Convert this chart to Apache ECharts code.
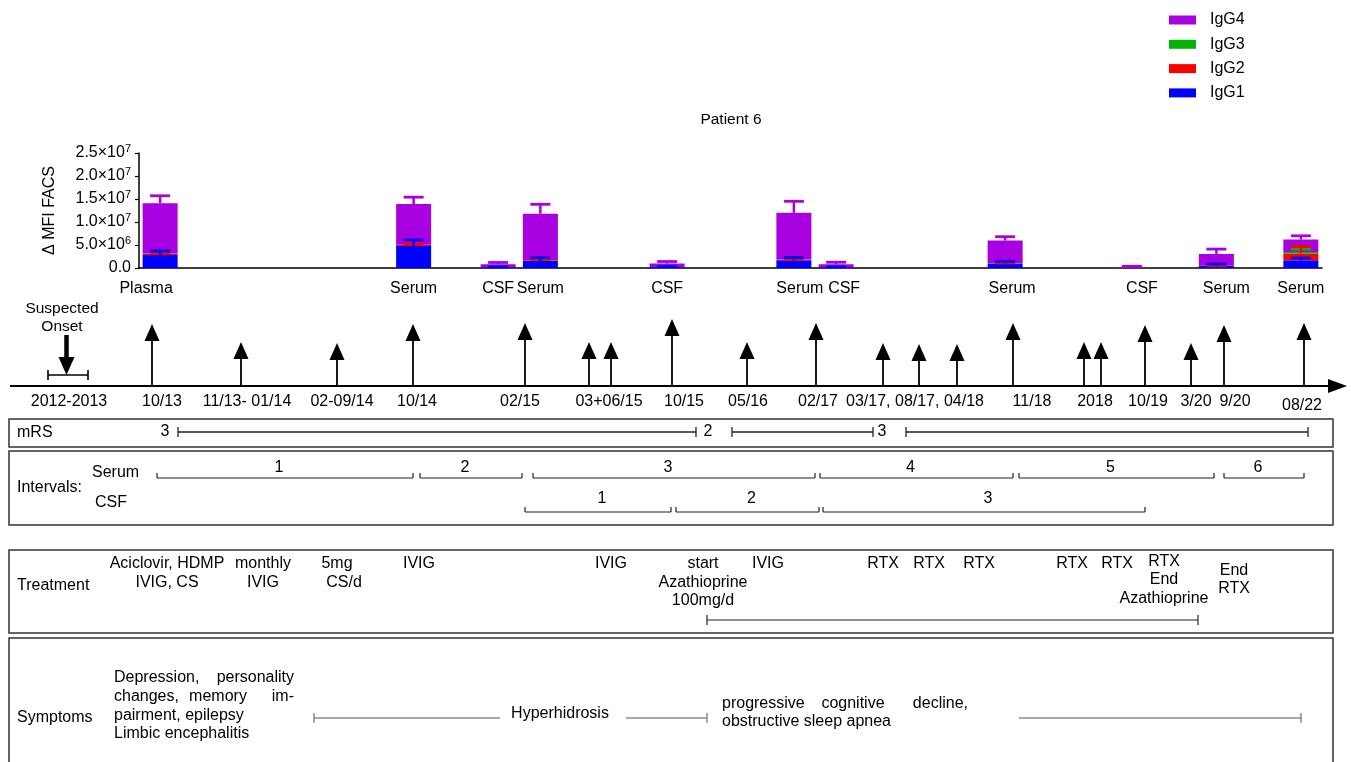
<!DOCTYPE html>
<html>
<head>
<meta charset="utf-8">
<script src="https://cdn.jsdelivr.net/npm/echarts@6/dist/echarts.min.js"></script>
<style>
  html, body { margin: 0; padding: 0; background: #fff; }
  #chart { width: 1351px; height: 762px; }
</style>
</head>
<body>
<div id="chart"></div>
<script>
// ---------- IgG subclass reactivity (ΔMFI, FACS) per sample ----------
const SLOT_COUNT = 28;                                   // evenly spaced sample slots on the bar axis
const sampleSlot = [0, 6, 8, 9, 12, 15, 16, 20, 23, 25, 27];
const sampleType = ['Plasma', 'Serum', 'CSF', 'Serum', 'CSF', 'Serum', 'CSF', 'Serum', 'CSF', 'Serum', 'Serum'];

const igg1 = [2.8e6, 4.8e6, 0.15e6, 1.5e6, 0.2e6, 1.7e6, 0.15e6, 1.0e6, 0.02e6, 0.45e6, 1.68e6];
const igg2 = [0.3e6, 0.2e6, 0.02e6, 0.2e6, 0.02e6, 0.1e6, 0.02e6, 0.05e6, 0.01e6, 0.02e6, 1.47e6];
const igg3 = [0.05e6, 0.05e6, 0.01e6, 0.05e6, 0.01e6, 0.05e6, 0.01e6, 0.02e6, 0.01e6, 0.02e6, 0.35e6];
const igg4 = [10.95e6, 8.85e6, 0.62e6, 10.05e6, 0.73e6, 10.15e6, 0.62e6, 4.93e6, 0.12e6, 2.57e6, 2.7e6];

const sd1 = [0.9e6, 1.3e6, 0.1e6, 0.77e6, 0.1e6, 0.6e6, 0.1e6, 0.45e6, 0, 0.43e6, 0.5e6];
const sd2 = [0.2e6, 0.2e6, 0, 0.15e6, 0, 0.1e6, 0, 0.05e6, 0, 0.05e6, 1.55e6];
const sd3 = [0, 0, 0, 0, 0, 0, 0, 0, 0, 0, 0.6e6];
const sd4 = [1.6e6, 1.5e6, 0.4e6, 2.05e6, 0.45e6, 2.5e6, 0.45e6, 0.8e6, 0.22e6, 1.05e6, 0.8e6];

// ---------- Disease timeline (positions along the schematic time line) ----------
const arrowPos  = [152, 241, 337, 413, 525, 589, 611, 672, 747, 816, 883, 919, 957, 1013, 1084, 1101, 1145, 1191, 1224, 1304];
const arrowRise = [62, 44, 43, 62, 63, 44, 44, 67, 44, 63, 43, 42, 42, 63, 44, 44, 61, 43, 61, 63];
const dateLabels = ['2012-2013', '10/13', '11/13- 01/14', '02-09/14', '10/14', '02/15', '03+06/15', '10/15',
                    '05/16', '02/17', '03/17, 08/17, 04/18', '11/18', '2018', '10/19', '3/20', '9/20', '08/22'];
const dateLabelPos = [69, 162, 247, 342, 417, 520, 609, 684, 748, 818, 915, 1032, 1095, 1148, 1196, 1235, 1302];

const mrsScores = ['3', '2', '3'];
const mrsScorePos = [165, 708, 882];
const mrsSpans = [[178, 696], [732, 873], [906, 1308]];

const serumIntervals = [[157, 413], [420, 522], [533, 815], [820, 1013], [1019, 1214], [1224, 1304]];
const csfIntervals = [[525, 671], [676, 819], [823, 1145]];

const azathioprineSpan = [707, 1198];
const symptomSpans = [[314, 500, 'start'], [626, 707, 'end'], [1019, 1301, 'end']];

// ---------- styling ----------
const FONT = '"Liberation Sans", Arial, Helvetica, sans-serif';
const C4 = '#A800E0', C3 = '#00B400', C2 = '#FF0000', C1 = '#0000FF';
const TL_Y = 386;          // time line baseline
const FS = 16;             // body text size
const labelNudge = { 0: -14, 15: 6, 16: 8, 20: 7, 23: 10, 25: 10 };

const categories = [];
for (let i = 0; i < SLOT_COUNT; i++) categories.push('');
sampleSlot.forEach((s, k) => { categories[s] = sampleType[k]; });

function slotSeries(vals) {
  const out = new Array(SLOT_COUNT).fill(null);
  sampleSlot.forEach((s, k) => { out[s] = vals[k]; });
  return out;
}

const layers = [igg1, igg2, igg3, igg4];
function errorSeries(color, sd, layerIdx, z) {
  const data = sampleSlot.map((slot, k) => {
    let base = 0;
    for (let j = 0; j <= layerIdx; j++) base += layers[j][k];
    return [slot, base, base + sd[k], sd[k]];
  });
  return {
    type: 'custom', xAxisIndex: 0, yAxisIndex: 0, z, silent: true, data,
    renderItem(p, api) {
      if (!api.value(3)) return null;
      const top = api.coord([api.value(0), api.value(2)]);
      const bot = api.coord([api.value(0), api.value(1)]);
      return {
        type: 'group', children: [
          { type: 'line', shape: { x1: top[0], y1: bot[1], x2: top[0], y2: top[1] }, style: { stroke: color, lineWidth: 2.5 } },
          { type: 'line', shape: { x1: top[0] - 10, y1: top[1], x2: top[0] + 10, y2: top[1] }, style: { stroke: color, lineWidth: 2.8 } }
        ]
      };
    }
  };
}

function barSeries(name, vals, color) {
  return {
    name, type: 'bar', stack: 'igg', xAxisIndex: 0, yAxisIndex: 0, barWidth: 35,
    itemStyle: { color }, data: slotSeries(vals), silent: true, z: 2
  };
}

// bracket data: [x1, x2, y, kind, width]  kind 0: ticks up at both ends, 1: ticks across both ends, 2: start tick, 3: end tick
const bracketData = [];
mrsSpans.forEach(s => bracketData.push([s[0], s[1], 432, 1, 1.3]));
serumIntervals.forEach(s => bracketData.push([s[0], s[1], 478, 0, 1.2]));
csfIntervals.forEach(s => bracketData.push([s[0], s[1], 512, 0, 1.2]));
bracketData.push([azathioprineSpan[0], azathioprineSpan[1], 620, 1, 1.2]);
symptomSpans.forEach(s => bracketData.push([s[0], s[1], 718, s[2] === 'start' ? 2 : 3, 1]));

const arrowData = arrowPos.map((x, i) => [x, arrowRise[i]]);

// ---------- text helpers ----------
function T(x, y, text, o = {}) {
  const align = o.align || 'center';
  return {
    type: 'text', x, y, silent: true,
    style: {
      text, fill: '#000', font: (o.size || FS) + 'px ' + FONT,
      textAlign: align, textVerticalAlign: 'middle', align, verticalAlign: 'middle'
    }
  };
}
function box(x, y, w, h) {
  return { type: 'rect', silent: true, shape: { x, y, width: w, height: h },
           style: { fill: 'none', stroke: '#333', lineWidth: 1.5 } };
}

const graphics = [];
// title and boxes
graphics.push(T(731, 120, 'Patient 6', { size: 15.5 }));
graphics.push(box(9, 419, 1324, 28));
graphics.push(box(9, 451, 1324, 74));
graphics.push(box(9, 550, 1324, 83));
graphics.push(box(9, 638, 1324, 140));

// time line axis with arrow head
graphics.push({ type: 'line', silent: true, shape: { x1: 10, y1: TL_Y, x2: 1332, y2: TL_Y }, style: { stroke: '#000', lineWidth: 2 } });
graphics.push({ type: 'polygon', silent: true, shape: { points: [[1328, TL_Y - 7], [1347, TL_Y], [1328, TL_Y + 7]] }, style: { fill: '#000' } });

// suspected onset marker
graphics.push(T(62, 309, 'Suspected', { size: 15.5 }));
graphics.push(T(62, 327, 'Onset', { size: 15.5 }));
graphics.push({ type: 'line', silent: true, shape: { x1: 48, y1: 375, x2: 88, y2: 375 }, style: { stroke: '#000', lineWidth: 1.6 } });
graphics.push({ type: 'line', silent: true, shape: { x1: 48, y1: 370, x2: 48, y2: 380 }, style: { stroke: '#000', lineWidth: 1.6 } });
graphics.push({ type: 'line', silent: true, shape: { x1: 88, y1: 370, x2: 88, y2: 380 }, style: { stroke: '#000', lineWidth: 1.6 } });
graphics.push({ type: 'line', silent: true, shape: { x1: 66.5, y1: 335, x2: 66.5, y2: 360 }, style: { stroke: '#000', lineWidth: 4.5 } });
graphics.push({ type: 'polygon', silent: true, shape: { points: [[58.5, 357], [74.5, 357], [66.5, 375]] }, style: { fill: '#000' } });

// dates under the time line
dateLabels.forEach((d, i) => graphics.push(T(dateLabelPos[i], d === '08/22' ? 406 : 402, d)));

// mRS row
graphics.push(T(17, 433, 'mRS', { align: 'left' }));
mrsScores.forEach((s, i) => graphics.push(T(mrsScorePos[i], 432, s)));

// intervals
graphics.push(T(17, 488, 'Intervals:', { align: 'left' }));
graphics.push(T(92, 473, 'Serum', { align: 'left' }));
graphics.push(T(95, 503, 'CSF', { align: 'left' }));
serumIntervals.forEach((s, i) => graphics.push(T((s[0] + s[1]) / 2 - 6, 468, String(i + 1))));
csfIntervals.forEach((s, i) => graphics.push(T((s[0] + s[1]) / 2 + 4, 499, String(i + 1))));

// treatment
graphics.push(T(17, 586, 'Treatment', { align: 'left' }));
[
  [167, 564, 'Aciclovir, HDMP'], [167, 583, 'IVIG, CS'],
  [263, 564, 'monthly'], [263, 583, 'IVIG'],
  [337, 564, '5mg'], [344, 583, 'CS/d'],
  [419, 564, 'IVIG'], [611, 564, 'IVIG'],
  [703, 564, 'start'], [703, 583, 'Azathioprine'], [703, 601, '100mg/d'],
  [768, 564, 'IVIG'],
  [883, 564, 'RTX'], [929, 564, 'RTX'], [979, 564, 'RTX'], [1072, 564, 'RTX'], [1117, 564, 'RTX'],
  [1164, 562, 'RTX'], [1164, 580, 'End'], [1164, 599, 'Azathioprine'],
  [1234, 571, 'End'], [1234, 589, 'RTX']
].forEach(t => graphics.push(T(t[0], t[1], t[2])));

// symptoms
graphics.push(T(17, 718, 'Symptoms', { align: 'left' }));
graphics.push(T(114, 678, 'Depression,', { align: 'left' }));
graphics.push(T(294, 678, 'personality', { align: 'right' }));
graphics.push(T(114, 697, 'changes,', { align: 'left' }));
graphics.push(T(218, 697, 'memory'));
graphics.push(T(294, 697, 'im-', { align: 'right' }));
graphics.push(T(114, 716, 'pairment, epilepsy', { align: 'left' }));
graphics.push(T(114, 734, 'Limbic encephalitis', { align: 'left' }));
graphics.push(T(560, 714, 'Hyperhidrosis'));
graphics.push(T(722, 704, 'progressive', { align: 'left' }));
graphics.push(T(853, 704, 'cognitive'));
graphics.push(T(968, 704, 'decline,', { align: 'right' }));
graphics.push(T(722, 722, 'obstructive sleep apnea', { align: 'left' }));

// ---------- chart ----------
const nudgeRich = { b: { fontSize: 16, fontFamily: FONT, color: '#000' } };
Object.keys(labelNudge).forEach(k => {
  const n = labelNudge[k];
  nudgeRich['n' + k] = { fontSize: 16, fontFamily: FONT, color: '#000',
    padding: n > 0 ? [0, 0, 0, 2 * n] : [0, -2 * n, 0, 0] };
});

const chart = echarts.init(document.getElementById('chart'), null, { renderer: 'canvas' });
chart.setOption({
  animation: false,
  backgroundColor: '#fff',
  textStyle: { fontFamily: FONT },
  legend: {
    data: ['IgG4', 'IgG3', 'IgG2', 'IgG1'],
    orient: 'vertical', left: 1169, top: 12, padding: 0,
    itemWidth: 27, itemHeight: 9, itemGap: 8.3,
    icon: 'rect', selectedMode: false,
    textStyle: { fontSize: 16, color: '#000', fontFamily: FONT, padding: [0, 0, 0, 9] }
  },
  grid: [
    { left: 139, top: 153, width: 1183, height: 115 },
    { left: 0, top: 0, width: 1351, height: 762 }
  ],
  xAxis: [
    {
      type: 'category', gridIndex: 0, data: categories,
      axisLine: { lineStyle: { color: '#000', width: 1.5 } },
      axisTick: { alignWithLabel: true, length: 4, lineStyle: { color: '#000', width: 1.2 } },
      axisLabel: {
        interval: 0, margin: 13, color: '#000', fontSize: 16,
        formatter: (v, i) => v ? (labelNudge[i] !== undefined ? `{n${i}|${v}}` : `{b|${v}}`) : '',
        rich: nudgeRich
      }
    },
    { type: 'value', gridIndex: 1, min: 0, max: 1351, show: false }
  ],
  yAxis: [
    {
      type: 'value', gridIndex: 0, min: 0, max: 2.5e7, interval: 5e6,
      name: 'Δ MFI FACS', nameLocation: 'middle', nameRotate: 90, nameGap: 81,
      nameTextStyle: { fontSize: 16, color: '#000', fontFamily: FONT },
      axisLine: { show: true, lineStyle: { color: '#000', width: 1.5 } },
      axisTick: { show: true, length: 4, lineStyle: { color: '#000', width: 1.2 } },
      splitLine: { show: false },
      axisLabel: {
        margin: 8, color: '#000',
        formatter: v => {
          if (v === 0) return '{m|0.0}';
          const e = Math.floor(Math.log10(v) + 1e-9);
          const m = v / Math.pow(10, e);
          return `{m|${m.toFixed(1)}×10}{e|${e}}`;
        },
        rich: {
          m: { fontSize: 16, fontFamily: FONT, color: '#000', lineHeight: 20 },
          e: { fontSize: 11, fontFamily: FONT, color: '#000', verticalAlign: 'top', lineHeight: 12 }
        }
      }
    },
    { type: 'value', gridIndex: 1, min: 0, max: 762, inverse: true, show: false }
  ],
  graphic: { elements: graphics },
  series: [
    barSeries('IgG1', igg1, C1),
    barSeries('IgG2', igg2, C2),
    barSeries('IgG3', igg3, C3),
    barSeries('IgG4', igg4, C4),
    errorSeries(C4, sd4, 3, 6),
    errorSeries(C3, sd3, 2, 7),
    errorSeries(C2, sd2, 1, 8),
    errorSeries(C1, sd1, 0, 9),
    {
      // sampling / treatment time points on the schematic time line
      type: 'custom', xAxisIndex: 1, yAxisIndex: 1, silent: true, data: arrowData,
      renderItem(p, api) {
        const base = api.coord([api.value(0), TL_Y]);
        const tip = api.coord([api.value(0), TL_Y - api.value(1)]);
        return {
          type: 'group', children: [
            { type: 'line', shape: { x1: base[0], y1: base[1], x2: tip[0], y2: tip[1] + 12 }, style: { stroke: '#000', lineWidth: 1.8 } },
            { type: 'polygon', shape: { points: [[tip[0], tip[1]], [tip[0] - 7.5, tip[1] + 17], [tip[0] + 7.5, tip[1] + 17]] }, style: { fill: '#000' } }
          ]
        };
      }
    },
    {
      // mRS spans, sample intervals, therapy and symptom durations
      type: 'custom', xAxisIndex: 1, yAxisIndex: 1, silent: true, data: bracketData,
      renderItem(p, api) {
        const a = api.coord([api.value(0), api.value(2)]);
        const b = api.coord([api.value(1), api.value(2)]);
        const kind = api.value(3), lw = api.value(4);
        const st = { stroke: kind >= 2 ? '#555' : '#222', lineWidth: lw };
        const kids = [{ type: 'line', shape: { x1: a[0], y1: a[1], x2: b[0], y2: b[1] }, style: st }];
        if (kind === 0) {
          kids.push({ type: 'line', shape: { x1: a[0], y1: a[1], x2: a[0], y2: a[1] - 5 }, style: st });
          kids.push({ type: 'line', shape: { x1: b[0], y1: b[1], x2: b[0], y2: b[1] - 5 }, style: st });
        } else {
          if (kind === 1 || kind === 2) kids.push({ type: 'line', shape: { x1: a[0], y1: a[1] - 5, x2: a[0], y2: a[1] + 5 }, style: st });
          if (kind === 1 || kind === 3) kids.push({ type: 'line', shape: { x1: b[0], y1: b[1] - 5, x2: b[0], y2: b[1] + 5 }, style: st });
        }
        return { type: 'group', children: kids };
      }
    }
  ]
});
</script>
</body>
</html>
